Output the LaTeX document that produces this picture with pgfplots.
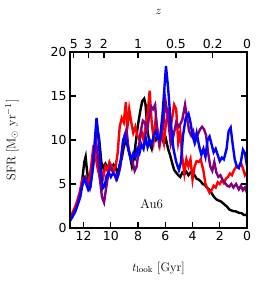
\documentclass[border=0pt]{standalone}
\usepackage{fontspec}
\usepackage{pgfplots}
\usepackage{pgfplotstable}
\pgfplotsset{compat=1.18}
\newfontfamily\tickfont{DejaVu Sans}
\definecolor{mpurple}{RGB}{128,0,128}

\pgfplotstableread{
t sfr
13.0 1.0
12.85 1.5
12.7 2.0
12.55 2.4
12.4 3.0
12.25 3.8
12.1 5.5
11.95 7.5
11.85 8.1
11.75 6.5
11.6 5.1
11.45 5.6
11.3 7.0
11.15 9.5
11.0 11.5
10.85 10.0
10.7 7.5
10.55 6.8
10.4 7.3
10.25 6.9
10.1 7.2
9.95 6.8
9.8 7.2
9.65 6.9
9.5 6.1
9.35 7.2
9.2 7.9
9.05 9.2
8.9 10.0
8.75 9.3
8.6 8.2
8.45 7.0
8.3 8.0
8.15 10.0
8.0 11.8
7.85 13.2
7.7 14.4
7.55 14.7
7.45 14.0
7.3 11.0
7.15 9.6
7.0 9.0
6.85 10.4
6.7 10.0
6.55 10.6
6.4 10.0
6.25 10.3
6.1 9.6
5.95 10.1
5.8 9.0
5.65 8.3
5.5 7.4
5.35 6.6
5.2 6.3
5.05 6.0
4.9 5.8
4.75 6.3
4.6 6.1
4.45 6.4
4.3 6.0
4.15 6.3
4.0 6.2
3.85 6.0
3.7 5.6
3.55 5.5
3.4 5.3
3.25 5.0
3.1 4.9
2.95 4.6
2.8 4.4
2.65 4.1
2.5 3.7
2.35 3.4
2.2 3.2
2.05 3.1
1.9 3.0
1.75 2.8
1.6 2.6
1.45 2.4
1.3 2.1
1.15 2.0
1.0 1.9
0.85 1.9
0.7 1.8
0.55 1.7
0.4 1.7
0.25 1.5
0.1 1.5
0.0 1.4
}\blackdata

\pgfplotstableread{
t sfr
13.0 1.1
12.8 1.8
12.6 2.5
12.45 3.2
12.3 4.0
12.1 5.5
11.9 5.8
11.75 5.0
11.6 5.5
11.45 7.0
11.3 9.0
11.15 8.5
11.0 7.0
10.85 6.0
10.7 6.5
10.55 5.8
10.4 7.0
10.25 6.5
10.1 7.5
9.95 7.0
9.8 6.5
9.65 7.0
9.5 8.5
9.35 11.5
9.2 12.5
9.05 12.0
8.9 14.3
8.8 11.2
8.65 13.5
8.5 12.0
8.35 10.8
8.2 11.5
8.05 10.5
7.9 10.0
7.75 11.0
7.6 10.0
7.45 11.5
7.3 13.0
7.15 15.6
7.0 12.0
6.85 10.0
6.7 12.5
6.55 11.0
6.4 9.5
6.25 11.0
6.1 9.7
5.95 12.0
5.8 13.0
5.65 11.0
5.5 12.5
5.35 14.0
5.2 13.5
5.05 9.7
4.9 10.9
4.75 8.0
4.6 6.2
4.45 7.8
4.3 7.0
4.15 7.8
4.0 5.5
3.85 7.0
3.7 7.6
3.55 7.5
3.4 7.8
3.2 6.5
3.05 5.0
2.9 4.5
2.75 4.0
2.6 4.3
2.45 4.8
2.3 4.6
2.15 5.2
2.0 5.0
1.85 5.4
1.7 5.1
1.55 5.6
1.4 5.8
1.25 6.2
1.1 6.0
0.95 6.6
0.8 6.9
0.6 7.0
0.45 7.4
0.3 6.8
0.15 6.0
0.0 6.3
}\reddata

\pgfplotstableread{
t sfr
13.0 1.0
12.85 1.4
12.7 1.8
12.55 2.4
12.4 3.0
12.2 4.3
12.0 5.5
11.85 5.8
11.7 5.0
11.55 4.5
11.4 6.0
11.25 8.5
11.1 10.0
10.95 8.0
10.8 5.5
10.65 3.5
10.5 2.9
10.35 4.5
10.2 6.0
10.05 7.0
9.9 6.5
9.75 6.2
9.6 5.5
9.45 6.0
9.3 7.0
9.15 9.0
9.0 10.5
8.85 11.2
8.7 9.0
8.55 8.0
8.4 7.5
8.25 6.5
8.1 7.0
7.95 9.0
7.8 11.0
7.65 12.2
7.5 12.0
7.35 11.0
7.2 12.5
7.05 13.8
6.9 13.5
6.75 14.0
6.6 11.0
6.45 9.5
6.3 10.5
6.15 11.5
6.0 14.6
5.8 12.5
5.6 9.5
5.4 10.5
5.2 12.0
5.0 11.5
4.75 12.3
4.55 14.0
4.4 12.5
4.25 11.0
4.1 10.5
3.95 11.0
3.8 9.8
3.65 10.5
3.45 11.2
3.3 11.5
3.15 11.2
3.0 10.5
2.85 8.5
2.7 7.0
2.55 6.5
2.4 7.5
2.25 6.3
2.1 5.8
1.95 6.0
1.8 5.5
1.6 5.1
1.45 4.8
1.3 4.7
1.15 5.0
1.0 4.6
0.8 5.0
0.6 4.4
0.45 4.8
0.3 4.3
0.15 4.6
0.0 4.0
}\purpledata

\pgfplotstableread{
t sfr
13.0 0.8
12.8 1.3
12.6 1.9
12.4 2.8
12.25 3.5
12.1 4.8
11.95 5.6
11.8 5.0
11.65 4.3
11.5 4.6
11.35 6.5
11.2 9.5
11.05 12.5
10.9 10.0
10.75 7.0
10.6 4.5
10.45 4.8
10.3 6.0
10.15 6.3
10.0 5.8
9.85 6.2
9.7 6.0
9.55 5.6
9.4 6.5
9.25 8.0
9.1 10.0
8.95 10.5
8.8 9.5
8.65 8.5
8.5 7.8
8.35 8.5
8.2 8.0
8.05 9.0
7.9 8.5
7.75 9.5
7.6 9.0
7.45 10.3
7.3 9.2
7.15 10.0
7.0 9.5
6.85 10.5
6.7 11.0
6.55 10.2
6.4 10.0
6.2 13.0
5.95 18.4
5.8 16.0
5.6 12.0
5.4 9.0
5.2 7.5
5.0 6.6
4.85 7.5
4.7 10.5
4.5 12.5
4.3 13.0
4.15 12.0
4.0 10.5
3.85 9.7
3.7 10.8
3.5 9.2
3.35 8.3
3.2 9.0
3.05 8.1
2.9 10.0
2.75 10.4
2.6 9.5
2.45 8.6
2.3 9.0
2.15 8.3
2.0 7.6
1.85 8.0
1.7 7.8
1.5 9.0
1.35 11.0
1.2 11.4
1.05 9.5
0.9 7.8
0.75 7.0
0.6 6.8
0.45 7.5
0.3 8.9
0.15 8.5
0.0 7.0
}\bluedata

\begin{document}
\begin{tikzpicture}
\pgfplotsset{
  myaxis/.style={
    scale only axis, width=177bp, height=176bp,
    xmin=0, xmax=13, x dir=reverse, ymin=0, ymax=20,
    tick align=inside,
    major tick length=6bp,
    axis line style={line width=2.2bp},
    major tick style={line width=1.2bp, black},
    ticklabel style={font=\tickfont\fontsize{12.5}{13}\selectfont},
    /pgf/number format/assume math mode=true,
  }
}
\begin{axis}[myaxis, name=ax,
  xtick={0,2,4,6,8,10,12}, ytick={0,5,10,15,20},
  xtick pos=left, ytick pos=both,
  xlabel={$t_{\rm look}$ [Gyr]},
  ylabel={SFR [M$_\odot$ yr$^{-1}$]},
  every axis x label/.style={at={(axis description cs:0.5,-0.227)}, anchor=center, font=\fontsize{12.5}{14}\selectfont},
  every axis y label/.style={at={(axis description cs:-0.328,0.5)}, anchor=center, rotate=90, font=\fontsize{12.5}{14}\selectfont},
]
\addplot[black, line width=2.4bp] table[x=t,y=sfr] {\blackdata};
\addplot[red, line width=2.4bp] table[x=t,y=sfr] {\reddata};
\addplot[mpurple, line width=2.4bp] table[x=t,y=sfr] {\purpledata};
\addplot[blue, line width=2.4bp] table[x=t,y=sfr] {\bluedata};
\node[font=\fontsize{13}{14}\selectfont] at (axis cs:7.0,2.7) {Au6};
\end{axis}
\begin{axis}[myaxis, at={(ax.south west)}, anchor=south west,
  xtick={12.72,11.67,10.51,8.0,5.22,2.52,0},
  xticklabels={5,3,2,1,0.5,0.2,0},
  xtick pos=right, xticklabel pos=right,
  ytick=\empty,
  xlabel={$z$},
  every axis x label/.style={at={(axis description cs:0.5,1.227)}, anchor=center, font=\fontsize{12.5}{14}\selectfont},
]
\end{axis}
\path ([shift={(-70bp,-54bp)}]ax.south west) rectangle ([shift={(26bp,52bp)}]ax.north east);
\end{tikzpicture}
\end{document}
